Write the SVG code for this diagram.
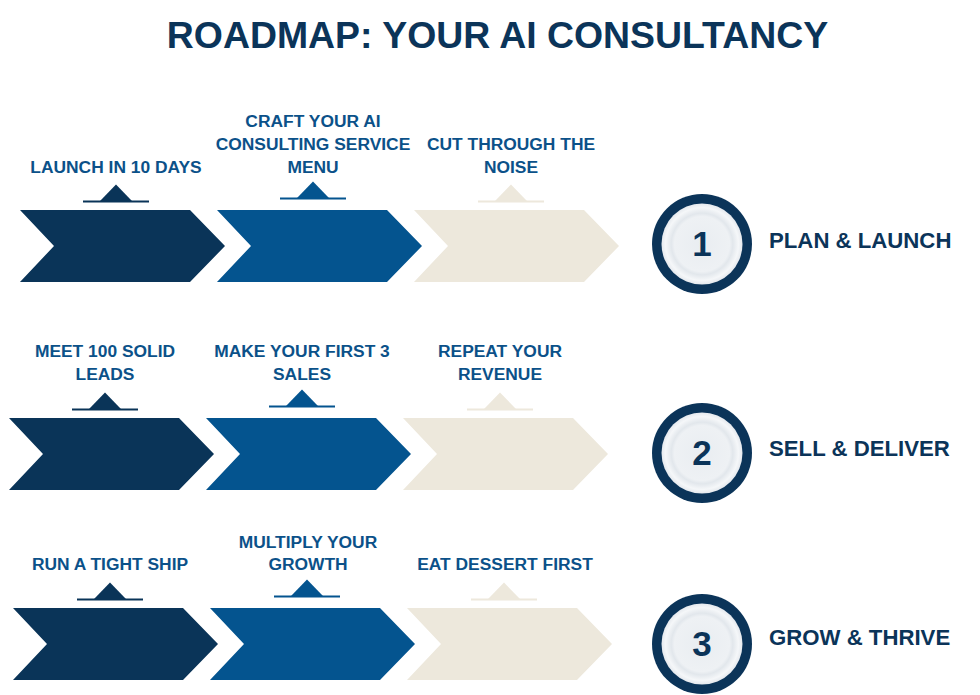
<svg xmlns="http://www.w3.org/2000/svg" xmlns:xlink="http://www.w3.org/1999/xlink" width="980" height="695" viewBox="0 0 980 695">
<style>
.title{font-family:"Liberation Sans",Arial,sans-serif;font-weight:700;font-size:37.4px;fill:#0b3459}
.lbl{font-family:"Liberation Sans",Arial,sans-serif;font-weight:700;font-size:17.4px;fill:#0b5189;text-anchor:middle}
.stage{font-family:"Liberation Sans",Arial,sans-serif;font-weight:700;font-size:22.2px;fill:#0b3459}
.num{font-family:"Liberation Sans",Arial,sans-serif;font-weight:700;font-size:35px;fill:#0b3459;text-anchor:middle}
.c1{fill:#0a3458}.c2{fill:#04548f}.c3{fill:#ede8dc}
</style>
<defs>
<path id="chev" d="M0,0 H170 L205,36 L170,72 H0 L34,36 Z"/>
<g id="mk"><rect x="-33" y="-0.5" width="66" height="2"/><polygon points="-16,0 0,-16.5 16,0"/></g>
<radialGradient id="disc" cx="0.5" cy="0.5" r="0.5">
<stop offset="0" stop-color="#e9edf1"/>
<stop offset="0.68" stop-color="#eef1f4"/>
<stop offset="0.76" stop-color="#e2e7ec"/>
<stop offset="0.9" stop-color="#f5f7f9"/>
<stop offset="1" stop-color="#e5e9ee"/>
</radialGradient>
<g id="badge"><circle r="50" fill="#0b3459"/><circle r="40.5" fill="url(#disc)"/></g>
</defs>

<text id="title" class="title" x="497.5" y="48" text-anchor="middle">ROADMAP: YOUR AI CONSULTANCY</text>

<g id="row1">
<g id="launch-10-days"><use href="#chev" x="20" y="210" class="c1"/><use href="#mk" x="116" y="201" class="c1"/><text class="lbl" x="116" y="173">LAUNCH IN 10 DAYS</text></g>
<g id="craft-menu"><use href="#chev" x="217" y="210" class="c2"/><use href="#mk" x="313" y="198" class="c2"/><text class="lbl" x="313" y="127">CRAFT YOUR AI</text><text class="lbl" x="313" y="150">CONSULTING SERVICE</text><text class="lbl" x="313" y="173">MENU</text></g>
<g id="cut-noise"><use href="#chev" x="414" y="210" class="c3"/><use href="#mk" x="511" y="201" class="c3"/><text class="lbl" x="511" y="150">CUT THROUGH THE</text><text class="lbl" x="511" y="173">NOISE</text></g>
<g id="stage1"><use href="#badge" x="702" y="244"/><text class="num" x="702" y="256">1</text><text class="stage" x="769" y="248">PLAN &amp; LAUNCH</text></g>
</g>

<g id="row2">
<g id="meet-leads"><use href="#chev" x="9" y="418" class="c1"/><use href="#mk" x="105" y="409" class="c1"/><text class="lbl" x="105" y="357">MEET 100 SOLID</text><text class="lbl" x="105" y="380">LEADS</text></g>
<g id="first-sales"><use href="#chev" x="206" y="418" class="c2"/><use href="#mk" x="302" y="406" class="c2"/><text class="lbl" x="302" y="357">MAKE YOUR FIRST 3</text><text class="lbl" x="302" y="380">SALES</text></g>
<g id="repeat-revenue"><use href="#chev" x="403" y="418" class="c3"/><use href="#mk" x="500" y="409" class="c3"/><text class="lbl" x="500" y="357">REPEAT YOUR</text><text class="lbl" x="500" y="380">REVENUE</text></g>
<g id="stage2"><use href="#badge" x="702" y="453"/><text class="num" x="702" y="465">2</text><text class="stage" x="769" y="456">SELL &amp; DELIVER</text></g>
</g>

<g id="row3">
<g id="tight-ship"><use href="#chev" x="13" y="608" class="c1"/><use href="#mk" x="110" y="599" class="c1"/><text class="lbl" x="110" y="570">RUN A TIGHT SHIP</text></g>
<g id="multiply-growth"><use href="#chev" x="210" y="608" class="c2"/><use href="#mk" x="307" y="596" class="c2"/><text class="lbl" x="308" y="548">MULTIPLY YOUR</text><text class="lbl" x="308" y="570">GROWTH</text></g>
<g id="dessert-first"><use href="#chev" x="407" y="608" class="c3"/><use href="#mk" x="504" y="599" class="c3"/><text class="lbl" x="505" y="570">EAT DESSERT FIRST</text></g>
<g id="stage3"><use href="#badge" x="702" y="644"/><text class="num" x="702" y="656">3</text><text class="stage" x="769" y="645">GROW &amp; THRIVE</text></g>
</g>
</svg>
